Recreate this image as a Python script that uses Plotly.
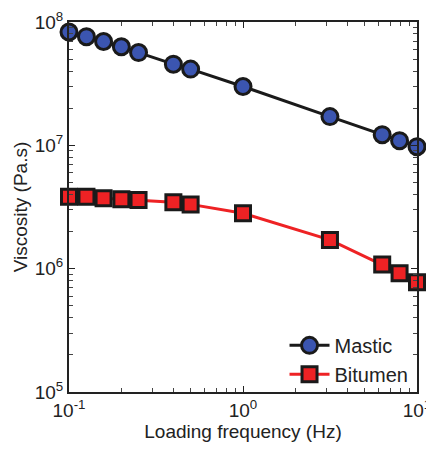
import plotly.graph_objects as go

freq = [0.1, 0.126, 0.158, 0.2, 0.251, 0.398, 0.5, 1.0, 3.16, 6.31, 7.94, 10.0]
mastic = [8.3e7, 7.6e7, 6.95e7, 6.3e7, 5.65e7, 4.55e7, 4.15e7, 3.0e7, 1.71e7, 1.22e7, 1.09e7, 9.75e6]
bitumen = [3.83e6, 3.83e6, 3.72e6, 3.65e6, 3.6e6, 3.45e6, 3.32e6, 2.81e6, 1.71e6, 1.08e6, 9.2e5, 7.75e5]

x_tickvals = [0.1, 1, 10]
x_ticktext = ["10<sup>-1</sup>", "10<sup>0</sup>", "10<sup>1</sup>"]
y_tickvals = [1e5, 1e6, 1e7, 1e8]
y_ticktext = ["10<sup>5</sup>", "10<sup>6</sup>", "10<sup>7</sup>", "10<sup>8</sup>"]
x_minor = [m * d for d in (0.1, 1) for m in range(2, 10)]
y_minor = [m * d for d in (1e5, 1e6, 1e7) for m in range(2, 10)]

fig = go.Figure()
fig.add_trace(go.Scatter(
    x=freq, y=mastic, name="Mastic", mode="lines+markers",
    line=dict(color="#1a1a1a", width=3),
    marker=dict(symbol="circle", size=16, color="#3b55b0",
                line=dict(color="#1a1a1a", width=3)),
    cliponaxis=False))
fig.add_trace(go.Scatter(
    x=freq, y=bitumen, name="Bitumen", mode="lines+markers",
    line=dict(color="#ee2224", width=3),
    marker=dict(symbol="square", size=15, color="#ee2224",
                line=dict(color="#1a1a1a", width=3)),
    cliponaxis=False))

font = dict(family="Liberation Sans, Arial, sans-serif", size=19, color="#222")
axis_common = dict(
    type="log", showgrid=False, zeroline=False, automargin=False,
    showline=True, linecolor="#222", linewidth=2, mirror="ticks",
    ticks="inside", ticklen=6, tickcolor="#222", tickwidth=1,
    tickfont=font, ticklabeloverflow="allow",
)
fig.update_layout(
    width=418, height=434,
    margin=dict(l=61, r=9, t=14, b=50),
    paper_bgcolor="white", plot_bgcolor="white",
    font=font,
    showlegend=True,
    legend=dict(x=0.99, y=-0.005, xanchor="right", yanchor="bottom",
                bgcolor="rgba(0,0,0,0)", font=dict(size=20),
                itemwidth=40, tracegroupgap=0),
    xaxis=dict(axis_common, range=[-1, 1], tickmode="array",
               tickvals=x_tickvals, ticktext=x_ticktext,
               minor=dict(tickmode="array", tickvals=x_minor, ticks="inside",
                          ticklen=4, tickcolor="#444", showgrid=False),
               title=dict(text="Loading frequency (Hz)", standoff=8, font=font)),
    yaxis=dict(axis_common, range=[5, 8], tickmode="array",
               tickvals=y_tickvals, ticktext=y_ticktext,
               minor=dict(tickmode="array", tickvals=y_minor, ticks="inside",
                          ticklen=4, tickcolor="#444", showgrid=False),
               title=dict(text="Viscosity (Pa.s)", standoff=2, font=font)),
)
fig.write_html("out.html")
